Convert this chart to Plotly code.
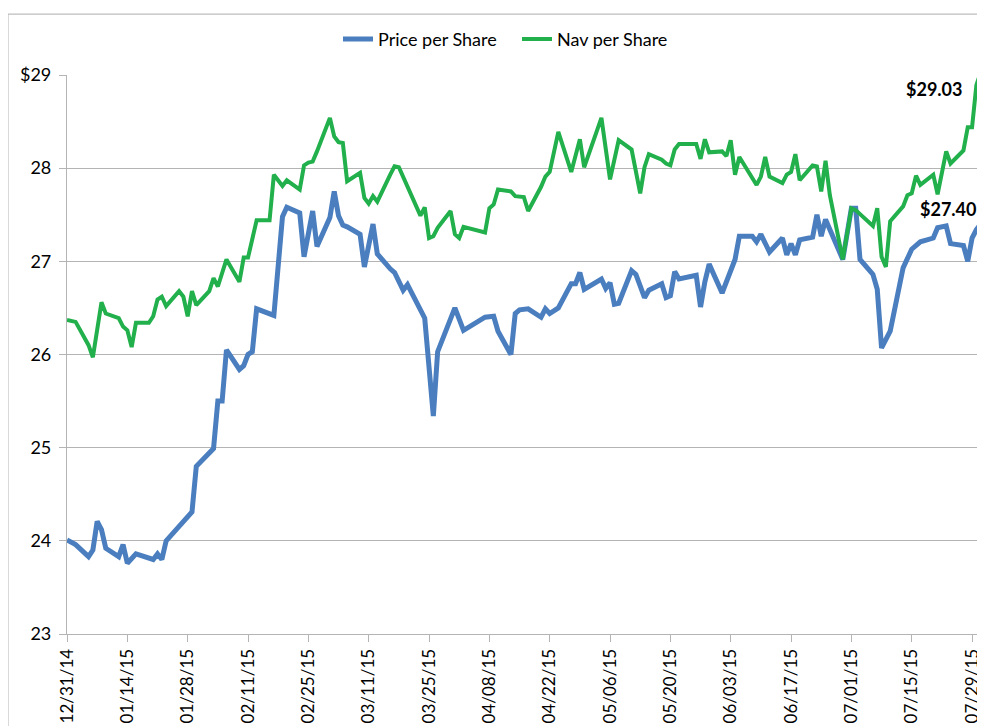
import plotly.graph_objects as go

price_dates = [
    "2014-12-31", "2015-01-02", "2015-01-05", "2015-01-06", "2015-01-07", "2015-01-08", "2015-01-09",
    "2015-01-12", "2015-01-13", "2015-01-14", "2015-01-16", "2015-01-20", "2015-01-21", "2015-01-22",
    "2015-01-23", "2015-01-29", "2015-01-30", "2015-02-03", "2015-02-04", "2015-02-05", "2015-02-06",
    "2015-02-09", "2015-02-10", "2015-02-11", "2015-02-12", "2015-02-13", "2015-02-17", "2015-02-18",
    "2015-02-19", "2015-02-20", "2015-02-23", "2015-02-24", "2015-02-26", "2015-02-27", "2015-03-02",
    "2015-03-03", "2015-03-04", "2015-03-05", "2015-03-06", "2015-03-09", "2015-03-10", "2015-03-12",
    "2015-03-13", "2015-03-16", "2015-03-17", "2015-03-19", "2015-03-20", "2015-03-24", "2015-03-26",
    "2015-03-27", "2015-03-31", "2015-04-02", "2015-04-07", "2015-04-09", "2015-04-10", "2015-04-13",
    "2015-04-14", "2015-04-15", "2015-04-17", "2015-04-20", "2015-04-21", "2015-04-22", "2015-04-24",
    "2015-04-27", "2015-04-28", "2015-04-29", "2015-04-30", "2015-05-04", "2015-05-05", "2015-05-06",
    "2015-05-07", "2015-05-08", "2015-05-11", "2015-05-12", "2015-05-14", "2015-05-15", "2015-05-18",
    "2015-05-19", "2015-05-20", "2015-05-21", "2015-05-22", "2015-05-26", "2015-05-27", "2015-05-28",
    "2015-05-29", "2015-06-01", "2015-06-03", "2015-06-04", "2015-06-05", "2015-06-08", "2015-06-09",
    "2015-06-10", "2015-06-12", "2015-06-15", "2015-06-16", "2015-06-17", "2015-06-18", "2015-06-19",
    "2015-06-22", "2015-06-23", "2015-06-24", "2015-06-25", "2015-06-29", "2015-07-01", "2015-07-02",
    "2015-07-03", "2015-07-06", "2015-07-07", "2015-07-08", "2015-07-10", "2015-07-13", "2015-07-14",
    "2015-07-15", "2015-07-17", "2015-07-20", "2015-07-21", "2015-07-23", "2015-07-24", "2015-07-27",
    "2015-07-28", "2015-07-29", "2015-07-30", "2015-07-31",
]
price_values = [
    24.01, 23.96, 23.83, 23.90, 24.21, 24.12, 23.92,
    23.83, 23.96, 23.76, 23.86, 23.80, 23.86, 23.80,
    24.00, 24.31, 24.80, 24.99, 25.50, 25.50, 26.05,
    25.84, 25.88, 26.00, 26.03, 26.49, 26.42, 26.94,
    27.48, 27.58, 27.52, 27.05, 27.54, 27.16, 27.47,
    27.75, 27.49, 27.39, 27.37, 27.29, 26.94, 27.40,
    27.08, 26.92, 26.88, 26.69, 26.75, 26.39, 25.34,
    26.03, 26.50, 26.26, 26.40, 26.41, 26.25, 26.00,
    26.44, 26.48, 26.49, 26.40, 26.49, 26.44, 26.50,
    26.76, 26.76, 26.88, 26.70, 26.81, 26.71, 26.77,
    26.54, 26.55, 26.90, 26.86, 26.61, 26.69, 26.76,
    26.61, 26.63, 26.89, 26.81, 26.85, 26.51, 26.78,
    26.97, 26.66, 26.90, 27.02, 27.27, 27.27, 27.21,
    27.29, 27.10, 27.25, 27.07, 27.19, 27.07, 27.23,
    27.26, 27.50, 27.27, 27.45, 27.02, 27.57, 27.57,
    27.02, 26.86, 26.70, 26.07, 26.25, 26.93, 27.02,
    27.13, 27.21, 27.25, 27.36, 27.38, 27.19, 27.17,
    27.00, 27.25, 27.34, 27.40,
]

nav_dates = [
    "2014-12-31", "2015-01-02", "2015-01-05", "2015-01-06", "2015-01-08", "2015-01-09", "2015-01-12",
    "2015-01-13", "2015-01-14", "2015-01-15", "2015-01-16", "2015-01-19", "2015-01-20", "2015-01-21",
    "2015-01-22", "2015-01-23", "2015-01-26", "2015-01-27", "2015-01-28", "2015-01-29", "2015-01-30",
    "2015-02-02", "2015-02-03", "2015-02-04", "2015-02-06", "2015-02-09", "2015-02-10", "2015-02-11",
    "2015-02-13", "2015-02-16", "2015-02-17", "2015-02-19", "2015-02-20", "2015-02-23", "2015-02-24",
    "2015-02-25", "2015-02-26", "2015-02-27", "2015-03-02", "2015-03-03", "2015-03-04", "2015-03-05",
    "2015-03-06", "2015-03-09", "2015-03-10", "2015-03-11", "2015-03-12", "2015-03-13", "2015-03-16",
    "2015-03-17", "2015-03-18", "2015-03-20", "2015-03-23", "2015-03-24", "2015-03-25", "2015-03-26",
    "2015-03-27", "2015-03-30", "2015-03-31", "2015-04-01", "2015-04-02", "2015-04-07", "2015-04-08",
    "2015-04-09", "2015-04-10", "2015-04-13", "2015-04-14", "2015-04-16", "2015-04-17", "2015-04-20",
    "2015-04-21", "2015-04-22", "2015-04-24", "2015-04-27", "2015-04-29", "2015-04-30", "2015-05-04",
    "2015-05-06", "2015-05-08", "2015-05-11", "2015-05-13", "2015-05-14", "2015-05-15", "2015-05-18",
    "2015-05-19", "2015-05-20", "2015-05-21", "2015-05-22", "2015-05-26", "2015-05-27", "2015-05-28",
    "2015-05-29", "2015-06-01", "2015-06-02", "2015-06-03", "2015-06-04", "2015-06-05", "2015-06-09",
    "2015-06-10", "2015-06-11", "2015-06-12", "2015-06-15", "2015-06-16", "2015-06-17", "2015-06-18",
    "2015-06-19", "2015-06-22", "2015-06-23", "2015-06-24", "2015-06-25", "2015-06-26", "2015-06-29",
    "2015-07-01", "2015-07-02", "2015-07-06", "2015-07-07", "2015-07-08", "2015-07-09", "2015-07-10",
    "2015-07-13", "2015-07-14", "2015-07-15", "2015-07-16", "2015-07-17", "2015-07-20", "2015-07-21",
    "2015-07-23", "2015-07-24", "2015-07-27", "2015-07-28", "2015-07-29", "2015-07-30", "2015-07-31",
]
nav_values = [
    26.37, 26.35, 26.10, 25.97, 26.56, 26.44, 26.39,
    26.30, 26.26, 26.08, 26.34, 26.34, 26.41, 26.59,
    26.62, 26.52, 26.68, 26.62, 26.41, 26.68, 26.53,
    26.68, 26.82, 26.73, 27.02, 26.78, 27.04, 27.04,
    27.44, 27.44, 27.93, 27.81, 27.87, 27.77, 28.03,
    28.06, 28.07, 28.18, 28.54, 28.34, 28.28, 28.27,
    27.86, 27.95, 27.68, 27.62, 27.70, 27.64, 27.93,
    28.02, 28.01, 27.80, 27.49, 27.58, 27.25, 27.27,
    27.36, 27.54, 27.29, 27.25, 27.37, 27.31, 27.57,
    27.61, 27.77, 27.75, 27.70, 27.69, 27.54, 27.80,
    27.91, 27.96, 28.39, 27.96, 28.31, 28.01, 28.54,
    27.88, 28.30, 28.20, 27.73, 28.01, 28.15, 28.09,
    28.05, 28.03, 28.20, 28.26, 28.26, 28.10, 28.31,
    28.17, 28.18, 28.13, 28.30, 27.93, 28.12, 27.82,
    27.91, 28.12, 27.91, 27.84, 27.93, 27.96, 28.15,
    27.87, 28.03, 28.02, 27.75, 28.08, 27.71, 27.02,
    27.57, 27.55, 27.38, 27.57, 27.05, 26.94, 27.43,
    27.59, 27.71, 27.73, 27.92, 27.82, 27.93, 27.72,
    28.18, 28.05, 28.19, 28.44, 28.44, 28.89, 29.03,
]

x_tick_dates = [
    "2014-12-31", "2015-01-14", "2015-01-28", "2015-02-11", "2015-02-25", "2015-03-11",
    "2015-03-25", "2015-04-08", "2015-04-22", "2015-05-06", "2015-05-20", "2015-06-03",
    "2015-06-17", "2015-07-01", "2015-07-15", "2015-07-29",
]
x_tick_labels = [
    "12/31/14", "01/14/15", "01/28/15", "02/11/15", "02/25/15", "03/11/15",
    "03/25/15", "04/08/15", "04/22/15", "05/06/15", "05/20/15", "06/03/15",
    "06/17/15", "07/01/15", "07/15/15", "07/29/15",
]
y_tick_values = [23, 24, 25, 26, 27, 28, 29]
y_tick_labels = ["23", "24", "25", "26", "27", "28", "$29"]

Y_MIN, Y_MAX = 23, 29

BLUE = "#4a7ebf"
GREEN = "#21b04b"
GRID = "#b4b4b4"
FONT = "Lato"

fig = go.Figure()
fig.add_trace(go.Scatter(x=price_dates, y=price_values, mode="lines", name="Price per Share",
                         line=dict(color=BLUE, width=5)))
fig.add_trace(go.Scatter(x=nav_dates, y=nav_values, mode="lines", name="Nav per Share",
                         line=dict(color=GREEN, width=4)))


def to_paper(v):
    return (v - Y_MIN) / (Y_MAX - Y_MIN)


fig.add_annotation(x=nav_dates[-1], y=to_paper(nav_values[-1]), yref="paper",
                   text="<b>$%.2f</b>" % nav_values[-1],
                   showarrow=False, xanchor="right", yanchor="middle", xshift=-17, yshift=-17,
                   font=dict(family=FONT, size=18, color="black"))
fig.add_annotation(x=price_dates[-1], y=to_paper(price_values[-1]), yref="paper",
                   text="<b>$%.2f</b>" % price_values[-1],
                   showarrow=False, xanchor="right", yanchor="middle", xshift=-3, yshift=15,
                   font=dict(family=FONT, size=18, color="black"))

# outer chart border (top and left visible)
fig.add_shape(type="rect", xref="paper", yref="paper", x0=-0.0643, x1=1.2, y0=-0.3, y1=1.109,
              line=dict(color="#bdbdbd", width=1.2), layer="below")

fig.update_layout(
    width=977, height=718,
    margin=dict(l=59, r=0, t=67, b=92, autoexpand=False),
    paper_bgcolor="white", plot_bgcolor="white",
    font=dict(family=FONT, size=18, color="black"),
    showlegend=True,
    legend=dict(orientation="h", x=0.2952, xanchor="left", y=1.064, yanchor="middle",
                font=dict(family=FONT, size=18), bgcolor="rgba(0,0,0,0)",
                entrywidth=134, entrywidthmode="pixels", tracegroupgap=0),
    xaxis=dict(type="date", range=["2014-12-31", "2015-08-01"],
               tickvals=x_tick_dates, ticktext=x_tick_labels, tickangle=-90,
               showgrid=False, showline=True, linecolor=GRID, linewidth=1.2,
               ticks="outside", ticklen=7, tickcolor=GRID, tickwidth=1.2,
               tickfont=dict(family=FONT, size=17), zeroline=False, automargin=False),
    yaxis=dict(range=[Y_MIN, Y_MAX], tickvals=y_tick_values, ticktext=y_tick_labels,
               showgrid=True, gridcolor=GRID, gridwidth=1.2,
               showline=True, linecolor=GRID, linewidth=1.2,
               ticks="outside", ticklen=7, tickcolor=GRID, tickwidth=1.2,
               ticklabelstandoff=4, automargin=False,
               tickfont=dict(family=FONT, size=18), zeroline=False),
)

fig.write_html("out.html")
